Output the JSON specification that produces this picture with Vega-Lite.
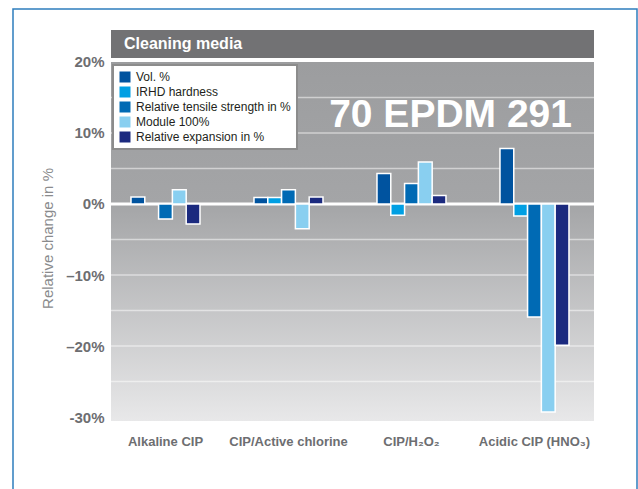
{
  "$schema": "https://vega.github.io/schema/vega-lite/v6.json",
  "background": "white",
  "autosize": {"type": "none"},
  "padding": {"left": 13, "top": 9, "right": 1, "bottom": 0},
  "width": 624,
  "height": 490,
  "view": {"stroke": "#2e7dbd", "strokeWidth": 1.5},
  "config": {"font": "Liberation Sans", "legend": {"strokeWidth": 2}},
  "resolve": {"scale": {"x": "independent"}, "axis": {"x": "independent"}},
  "layer": [
    {
      "layer": [
        {
          "data": {"values": [{"v": -30.56, "v2": 20}]},
          "mark": {
            "type": "rect",
            "color": {
              "gradient": "linear", "x1": 0, "y1": 0, "x2": 0, "y2": 1,
              "stops": [
                {"offset": 0, "color": "#9c9d9f"},
                {"offset": 0.396, "color": "#a4a5a7"},
                {"offset": 1, "color": "#e8e8e9"}
              ]
            }
          },
          "encoding": {
            "x": {"datum": 0, "type": "quantitative", "scale": {"domain": [0, 1], "range": [98, 581]}, "axis": null},
            "x2": {"datum": 1},
            "y": {
              "field": "v", "type": "quantitative",
              "scale": {"domain": [-30.56, 27.46], "range": [412, 0], "nice": false},
              "axis": {
                "title": "Relative change in %",
                "offset": -98,
                "values": [-30, -20, -10, 0, 10, 20],
                "labelExpr": "datum.value == -30 ? '-30%' : (datum.value < 0 ? '–' + abs(datum.value) + '%' : datum.value + '%')",
                "labelFontSize": 15, "labelFontWeight": "bold", "labelColor": "#6d6e71",
                "labelPadding": 7, "ticks": false, "domain": false, "grid": false,
                "titleFontSize": 15, "titleFontWeight": "normal", "titleColor": "#8a8b8d",
                "titleX": -64, "titleY": 229, "titleBaseline": "middle", "titleAlign": "center", "titleAngle": -90
              }
            },
            "y2": {"field": "v2"}
          }
        },
        {
          "data": {"values": [{"v": 20.56, "v2": 24.51}]},
          "mark": {"type": "rect", "color": "#727274"},
          "encoding": {
            "x": {"datum": 0, "type": "quantitative"},
            "x2": {"datum": 1},
            "y": {"field": "v", "type": "quantitative"},
            "y2": {"field": "v2"}
          }
        },
        {
          "data": {"values": [{"v": 15}, {"v": 10}, {"v": 5}, {"v": -5}, {"v": -10}, {"v": -15}, {"v": -20}, {"v": -25}]},
          "mark": {"type": "rule", "color": "white", "opacity": 0.5, "strokeWidth": 1.5},
          "encoding": {
            "x": {"datum": 0, "type": "quantitative"},
            "x2": {"datum": 1},
            "y": {"field": "v", "type": "quantitative"}
          }
        },
        {
          "data": {"values": [{"v": 0}]},
          "mark": {"type": "rule", "color": "white", "strokeWidth": 3},
          "encoding": {
            "x": {"datum": 0, "type": "quantitative"},
            "x2": {"datum": 1},
            "y": {"field": "v", "type": "quantitative"}
          }
        }
      ]
    },
    {
      "layer": [
        {
          "data": {"values": [
            {"cat": "Alkaline CIP", "series": "Vol. %", "v": 1.0},
            {"cat": "Alkaline CIP", "series": "IRHD hardness", "v": 0},
            {"cat": "Alkaline CIP", "series": "Relative tensile strength in %", "v": -2.1},
            {"cat": "Alkaline CIP", "series": "Module 100%", "v": 2.0},
            {"cat": "Alkaline CIP", "series": "Relative expansion in %", "v": -2.8},
            {"cat": "CIP/Active chlorine", "series": "Vol. %", "v": 0.9},
            {"cat": "CIP/Active chlorine", "series": "IRHD hardness", "v": 0.9},
            {"cat": "CIP/Active chlorine", "series": "Relative tensile strength in %", "v": 2.0},
            {"cat": "CIP/Active chlorine", "series": "Module 100%", "v": -3.5},
            {"cat": "CIP/Active chlorine", "series": "Relative expansion in %", "v": 1.0},
            {"cat": "CIP/H₂O₂", "series": "Vol. %", "v": 4.3},
            {"cat": "CIP/H₂O₂", "series": "IRHD hardness", "v": -1.6},
            {"cat": "CIP/H₂O₂", "series": "Relative tensile strength in %", "v": 2.9},
            {"cat": "CIP/H₂O₂", "series": "Module 100%", "v": 5.9},
            {"cat": "CIP/H₂O₂", "series": "Relative expansion in %", "v": 1.2},
            {"cat": "Acidic CIP (HNO₃)", "series": "Vol. %", "v": 7.8},
            {"cat": "Acidic CIP (HNO₃)", "series": "IRHD hardness", "v": -1.7},
            {"cat": "Acidic CIP (HNO₃)", "series": "Relative tensile strength in %", "v": -15.9},
            {"cat": "Acidic CIP (HNO₃)", "series": "Module 100%", "v": -29.3},
            {"cat": "Acidic CIP (HNO₃)", "series": "Relative expansion in %", "v": -19.9}
          ]},
          "mark": {"type": "bar", "stroke": "white", "strokeWidth": 1.5},
          "encoding": {
            "x": {
              "field": "cat", "type": "nominal",
              "scale": {"domain": ["Alkaline CIP", "CIP/Active chlorine", "CIP/H₂O₂", "Acidic CIP (HNO₃)"], "range": [98, 581], "paddingInner": 0.439, "paddingOuter": 0.183, "align": 0.444},
              "axis": {"title": null, "orient": "bottom", "offset": -78, "labelAngle": 0, "labelFontSize": 13, "labelFontWeight": "bold", "labelColor": "#6d6e71", "labelPadding": 14, "ticks": false, "domain": false}
            },
            "xOffset": {
              "field": "series", "type": "nominal",
              "scale": {"domain": ["Vol. %", "IRHD hardness", "Relative tensile strength in %", "Module 100%", "Relative expansion in %"], "paddingInner": 0, "paddingOuter": 0}
            },
            "y": {"field": "v", "type": "quantitative"},
            "y2": {"datum": 0},
            "color": {
              "field": "series", "type": "nominal",
              "scale": {
                "domain": ["Vol. %", "IRHD hardness", "Relative tensile strength in %", "Module 100%", "Relative expansion in %"],
                "range": ["#00539f", "#009fe3", "#006ab4", "#89cff0", "#1b2a7f"]
              },
              "legend": {
                "title": null, "orient": "none", "legendX": 100, "legendY": 56,
                "symbolType": "square", "symbolSize": 121, "symbolStrokeWidth": 0,
                "labelFontSize": 12, "labelColor": "#231f20", "labelOffset": 5,
                "fillColor": "white", "strokeColor": "#8c8c8c",
                "padding": 6, "rowPadding": 3
              }
            }
          }
        },
        {
          "data": {"values": [{"cat": "Alkaline CIP", "v": 22.54, "t": "Cleaning media"}]},
          "mark": {"type": "text", "align": "left", "baseline": "middle", "dx": -7, "fontSize": 16, "fontWeight": "bold", "color": "white"},
          "encoding": {
            "x": {"field": "cat", "type": "nominal", "bandPosition": 0},
            "y": {"field": "v", "type": "quantitative"},
            "text": {"field": "t"}
          }
        },
        {
          "data": {"values": [{"cat": "Acidic CIP (HNO₃)", "v": 10.85, "t": "70 EPDM 291"}]},
          "mark": {"type": "text", "align": "right", "baseline": "alphabetic", "dx": 3, "fontSize": 39, "fontWeight": "bold", "color": "white"},
          "encoding": {
            "x": {"field": "cat", "type": "nominal", "bandPosition": 1},
            "y": {"field": "v", "type": "quantitative"},
            "text": {"field": "t"}
          }
        }
      ]
    }
  ]
}
